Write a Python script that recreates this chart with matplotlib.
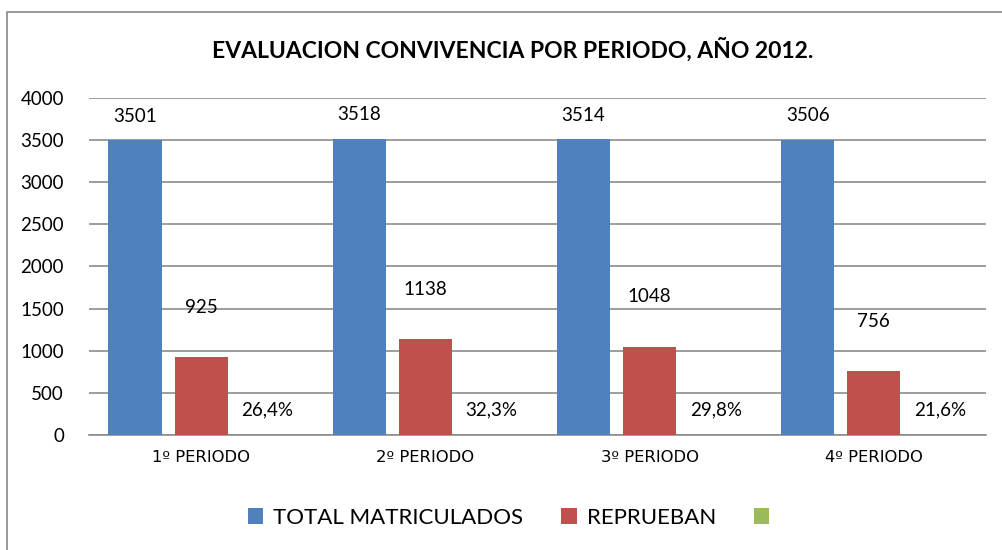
import numpy as np
import matplotlib
matplotlib.use("Agg")
import matplotlib.pyplot as plt
from matplotlib.patches import Rectangle

plt.rcParams['font.family'] = ['Lato', 'DejaVu Sans']

# data
periodos = ['1º PERIODO', '2º PERIODO', '3º PERIODO', '4º PERIODO']
total_matriculados = [3501, 3518, 3514, 3506]
reprueban = [925, 1138, 1048, 756]
porcentaje = [0.264, 0.323, 0.298, 0.216]
series_names = ['TOTAL MATRICULADOS', 'REPRUEBAN', '']
y_ticks = [0, 500, 1000, 1500, 2000, 2500, 3000, 3500, 4000]

colors = ['#4F81BD', '#C0504D', '#9BBB59']

fig = plt.figure(figsize=(10.03, 5.5), dpi=100)
ax = fig.add_axes([0.0887, 0.209, 0.8943, 0.613])

# outer chart border
fig.patches.append(Rectangle((7 / 1003, -0.1), 1.2, 1 - 12 / 550 + 0.1,
                             transform=fig.transFigure, fill=False,
                             edgecolor='#888888', linewidth=1.2))

x = np.arange(len(periodos))
w = 0.237
step = 0.295

b1 = ax.bar(x - step, total_matriculados, w, color=colors[0], label=series_names[0], zorder=3)
b2 = ax.bar(x, reprueban, w, color=colors[1], label=series_names[1], zorder=3)
b3 = ax.bar(x + step, porcentaje, w, color=colors[2], label=series_names[2], zorder=3)

for xi, v in zip(x - step, total_matriculados):
    ax.annotate(str(v), (xi, v), xytext=(0, 17), textcoords='offset points',
                ha='center', va='center', fontsize=13.5)
for xi, v in zip(x, reprueban):
    ax.annotate(str(v), (xi, v), xytext=(0, 36), textcoords='offset points',
                ha='center', va='center', fontsize=13.5)
for xi, v in zip(x + step, porcentaje):
    ax.annotate(f"{v * 100:.1f}%".replace('.', ','), (xi, v), xytext=(0, 18),
                textcoords='offset points', ha='center', va='center', fontsize=13.5)

ax.set_xlim(-0.5, len(periodos) - 0.5)
ax.set_ylim(0, 4000)
ax.set_yticks(y_ticks)
ax.set_yticklabels([str(t) for t in y_ticks], fontsize=13.5)
ax.set_xticks(x)
ax.set_xticklabels(periodos)
for lbl in ax.get_xticklabels():
    lbl.set_fontfamily(['DejaVu Sans'])
    lbl.set_fontsize(11.8)
ax.tick_params(axis='both', length=0)
ax.tick_params(axis='y', pad=18)
ax.tick_params(axis='x', pad=11)
ax.yaxis.grid(True, color='#8c8c8c', linewidth=1.2, zorder=0)
for s in ['top', 'right', 'left']:
    ax.spines[s].set_visible(False)
ax.spines['bottom'].set_color('#8c8c8c')
ax.spines['bottom'].set_linewidth(1.2)

fig.text(0.511, 0.909, 'EVALUACION CONVIVENCIA POR PERIODO, AÑO 2012.',
         ha='center', va='center', fontsize=16.5, fontweight='bold')

fig.legend(handles=[b1, b2, b3], labels=series_names, loc='center',
           bbox_to_anchor=(0.512, 1 - 518 / 550), ncol=3, frameon=False,
           fontsize=16, handlelength=0.7, handleheight=0.7,
           handletextpad=0.45, columnspacing=1.7)

fig.savefig('out.png', dpi=100)
